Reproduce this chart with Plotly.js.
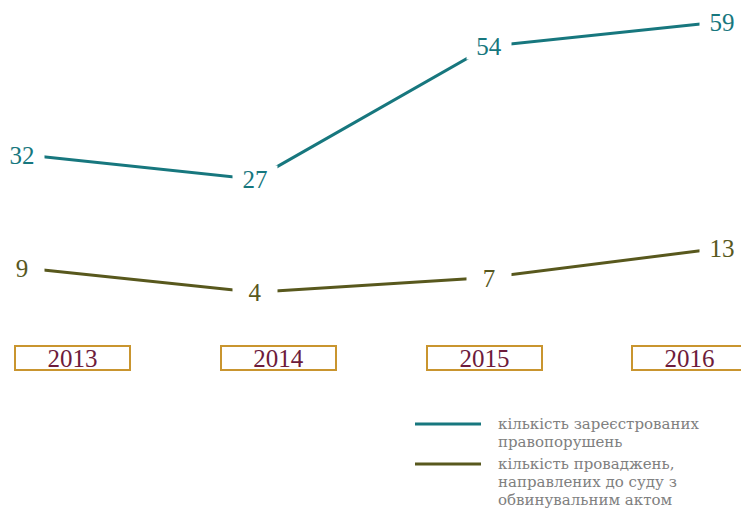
<!DOCTYPE html>
<html>
<head>
<meta charset="utf-8">
<script src="https://cdn.plot.ly/plotly-3.0.1.min.js"></script>
<style>html,body{margin:0;padding:0;background:#fff;}#chart{width:741px;height:512px;}</style>
</head>
<body>
<div id="chart"></div>
<script>
const years = [2013, 2014, 2015, 2016];
const registered = [32, 27, 54, 59];
const indicted = [9, 4, 7, 13];
const seriesNames = [
  'кількість зареєстрованих<br>правопорушень',
  'кількість проваджень,<br>направлених до суду з<br>обвинувальним актом'
];
const yearLabels = ['2013', '2014', '2015', '2016'];

const TEAL = '#17777e';
const OLIVE = '#58581d';
const SERIF = 'Liberation Serif';
const LEGEND_FONT = 'DejaVu Serif';

const series = [
  {name: seriesNames[0], y: registered, color: TEAL},
  {name: seriesNames[1], y: indicted, color: OLIVE}
];

const traces = series.map(s => ({
  type: 'scatter', mode: 'lines', x: years, y: s.y, name: s.name,
  line: {color: s.color, width: 3}, hoverinfo: 'skip', showlegend: false
}));

const annotations = [];
series.forEach(s => {
  s.y.forEach((v, i) => {
    annotations.push({
      x: years[i], y: v, xref: 'x', yref: 'y', xanchor: 'center', yanchor: 'middle',
      text: String(v), showarrow: false,
      bgcolor: '#ffffff', width: 44, height: 26, borderpad: 0,
      font: {family: SERIF, size: 25, color: s.color}
    });
  });
});
years.forEach((yr, i) => {
  annotations.push({
    x: yr, y: 1 - 358 / 512, xref: 'x2', yref: 'paper', xanchor: 'center', yanchor: 'middle',
    text: yearLabels[i], showarrow: false,
    width: 113, height: 22, borderpad: 0, bordercolor: '#c9952f', borderwidth: 2, bgcolor: '#ffffff',
    font: {family: SERIF, size: 25, color: '#6d1b3b'}
  });
});
// custom legend: line sample + text lines
const legendRows = [424, 464];
const LEGEND_LINE_GAP = 18;
const shapes = [];
series.forEach((s, k) => {
  const py = 1 - legendRows[k] / 512;
  shapes.push({type: 'line', xref: 'paper', yref: 'paper', x0: 415 / 741, x1: 481 / 741, y0: py, y1: py,
    line: {color: s.color, width: 3}});
  s.name.split('<br>').forEach((ln, j) => {
    annotations.push({
      x: 497 / 741, y: 1 - (legendRows[k] + j * LEGEND_LINE_GAP) / 512, xref: 'paper', yref: 'paper',
      xanchor: 'left', yanchor: 'middle', align: 'left', text: ln, showarrow: false,
      borderpad: 0,
      font: {family: LEGEND_FONT, size: 15, color: '#808080'}
    });
  });
});

const layout = {
  width: 741, height: 512,
  margin: {l: 0, r: 0, t: 0, b: 0},
  paper_bgcolor: '#ffffff', plot_bgcolor: '#ffffff',
  showlegend: false,
  xaxis: {range: [2012.906, 2016.082], visible: false, fixedrange: true},
  xaxis2: {range: [2012.6505, 2016.2476], overlaying: 'x', anchor: 'y', visible: false, fixedrange: true},
  yaxis: {range: [-40.66, 63.41], visible: false, fixedrange: true},
  annotations: annotations,
  shapes: shapes
};

Plotly.newPlot('chart', traces, layout, {displayModeBar: false, staticPlot: true});
</script>
</body>
</html>
